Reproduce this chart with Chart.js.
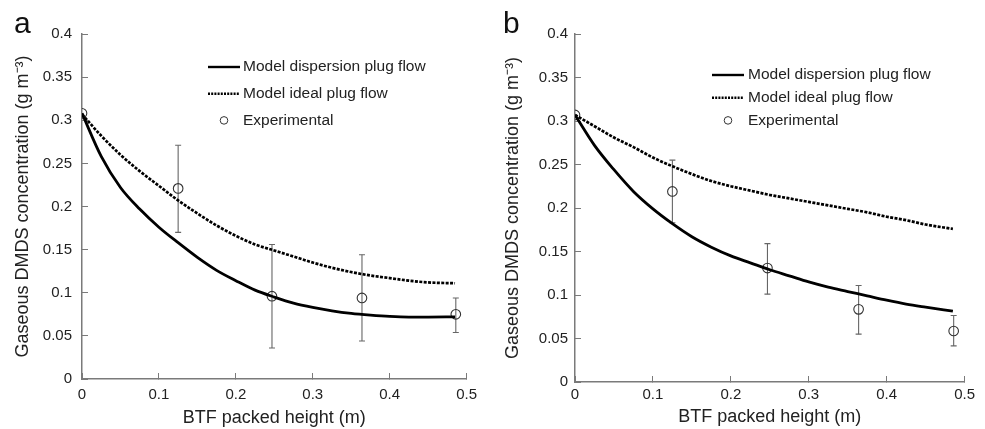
<!DOCTYPE html>
<html lang="en">
  <head>
    <meta charset="UTF-8" />
    <title>Gaseous DMDS concentration vs BTF packed height</title>
    <script src="https://cdn.jsdelivr.net/npm/chart.js@4.4.1/dist/chart.umd.min.js"></script>
    <style>
      body { margin: 0; background: #fff; }
      .wrap { position: relative; width: 985px; height: 429px; }
      canvas { position: absolute; top: 0; }
      .tag { position: absolute; font: 30px "Liberation Sans", Arial, sans-serif; line-height: 30px; color: #111; }
    </style>
  </head>
  <body>
    <div class="wrap">
      <canvas id="chartA" width="490" height="429" style="left:0"></canvas>
      <canvas id="chartB" width="495" height="429" style="left:490px"></canvas>
      <div class="tag" style="left:14px;top:8px">a</div>
      <div class="tag" style="left:503px;top:8px">b</div>
    </div>
    <script>
      // values
      const modelX = [0, 0.025, 0.05, 0.075, 0.1, 0.125, 0.15, 0.175, 0.2, 0.225,
                      0.25, 0.275, 0.3, 0.325, 0.35, 0.375, 0.4, 0.425, 0.45, 0.485];
      const dispersionA = [0.308, 0.258, 0.222, 0.197, 0.176, 0.158, 0.141, 0.126, 0.114, 0.103,
                           0.095, 0.088, 0.083, 0.079, 0.076, 0.074, 0.0725, 0.0718, 0.0718, 0.072];
      const idealA = [0.307, 0.282, 0.260, 0.241, 0.224, 0.207, 0.192, 0.178, 0.166, 0.156,
                      0.149, 0.142, 0.135, 0.129, 0.124, 0.120, 0.117, 0.114, 0.112, 0.111];
      const dispersionB = [0.307, 0.272, 0.244, 0.219, 0.199, 0.182, 0.167, 0.155, 0.145, 0.137,
                           0.129, 0.122, 0.115, 0.109, 0.104, 0.099, 0.094, 0.0895, 0.086, 0.0815];
      const idealB = [0.307, 0.294, 0.281, 0.270, 0.258, 0.248, 0.239, 0.231, 0.225, 0.220,
                      0.215, 0.211, 0.207, 0.203, 0.199, 0.195, 0.190, 0.186, 0.181, 0.176];

      const expX = [0, 0.125, 0.247, 0.364, 0.486];
      const expA = [0.308, 0.221, 0.096, 0.094, 0.075];
      const lowA = [0.308, 0.170, 0.036, 0.044, 0.054];
      const highA = [0.308, 0.271, 0.156, 0.144, 0.094];
      const expB = [0.307, 0.219, 0.131, 0.0835, 0.0586];
      const lowB = [0.307, 0.183, 0.101, 0.055, 0.0415];
      const highB = [0.307, 0.255, 0.159, 0.111, 0.0765];

      const xTickValues = [0, 0.1, 0.2, 0.3, 0.4, 0.5];
      const xTickLabels = ["0", "0.1", "0.2", "0.3", "0.4", "0.5"];
      const yTickValues = [0, 0.05, 0.1, 0.15, 0.2, 0.25, 0.3, 0.35, 0.4];
      const yTickLabels = ["0", "0.05", "0.1", "0.15", "0.2", "0.25", "0.3", "0.35", "0.4"];

      const fontFamily = "'Liberation Sans', Arial, sans-serif";
      Chart.defaults.font.family = fontFamily;
      Chart.defaults.color = "#222";
      const axisGrey = "#7a7a7a";

      // legend drawn inside the plot, like the original figure
      const innerLegend = {
        id: "innerLegend",
        afterDraw(chart, args, opts) {
          const ctx = chart.ctx;
          ctx.save();
          ctx.font = "15.5px " + fontFamily;
          ctx.fillStyle = "#222";
          ctx.textBaseline = "middle";
          opts.items.forEach((idx, i) => {
            const ds = chart.data.datasets[idx];
            const y = opts.top + i * opts.rowGap;
            if (ds.showLine) {
              ctx.strokeStyle = ds.borderColor;
              ctx.lineWidth = 2.4;
              ctx.setLineDash(ds.borderDash ? [2, 1.2] : []);
              ctx.beginPath();
              ctx.moveTo(opts.left, y);
              ctx.lineTo(opts.left + opts.lineLen, y);
              ctx.stroke();
            } else {
              ctx.setLineDash([]);
              ctx.strokeStyle = ds.pointBorderColor;
              ctx.lineWidth = 1;
              ctx.beginPath();
              ctx.arc(opts.left + opts.lineLen / 2, y, 3.8, 0, Math.PI * 2);
              ctx.stroke();
            }
            ctx.fillText(ds.label, opts.left + opts.lineLen + opts.gap, y);
          });
          ctx.restore();
        }
      };

      function errorBars(low, high) {
        const pts = [];
        expX.forEach((x, i) => {
          if (high[i] > low[i]) {
            pts.push({ x: x, y: low[i] }, { x: x, y: high[i] }, { x: x, y: null });
          }
        });
        return pts;
      }

      function makePanel(id, p) {
        const ctx = document.getElementById(id).getContext("2d");
        return new Chart(ctx, {
          type: "scatter",
          data: {
            datasets: [
              {
                label: "Model dispersion plug flow",
                data: modelX.map((x, i) => ({ x: x, y: p.dispersion[i] })),
                showLine: true,
                borderColor: "#000",
                borderWidth: 2.8,
                pointRadius: 0,
                cubicInterpolationMode: "monotone",
              },
              {
                label: "Model ideal plug flow",
                data: modelX.map((x, i) => ({ x: x, y: p.ideal[i] })),
                showLine: true,
                borderColor: "#000",
                borderWidth: 2.7,
                borderDash: [3, 1.4],
                pointRadius: 0,
                cubicInterpolationMode: "monotone",
              },
              {
                label: "Experimental",
                data: expX.map((x, i) => ({ x: x, y: p.exp[i] })),
                showLine: false,
                pointRadius: 4.8,
                pointBorderWidth: 1.1,
                pointBorderColor: "#333",
                pointBackgroundColor: "rgba(0,0,0,0)",
              },
              {
                label: "",
                data: errorBars(p.low, p.high),
                showLine: true,
                spanGaps: false,
                borderColor: "#666",
                borderWidth: 1.1,
                pointStyle: "line",
                pointRadius: 3,
                pointBorderWidth: 1.1,
                pointBorderColor: "#666",
              },
            ],
          },
          options: {
            responsive: false,
            animation: false,
            events: [],
            layout: { padding: { left: 0, top: 34, right: p.padRight, bottom: 0 } },
            plugins: {
              legend: { display: false },
              tooltip: { enabled: false },
              innerLegend: p.legend,
            },
            scales: {
              x: {
                type: "linear",
                min: 0,
                max: 0.5,
                afterBuildTicks: (s) => { s.ticks = xTickValues.map((v) => ({ value: v })); },
                afterFit: (s) => { s.height = p.xAxisHeight; },
                ticks: {
                  callback: (v, i) => xTickLabels[i],
                  font: { size: 15 },
                  padding: p.xTickPad,
                  maxRotation: 0,
                  autoSkip: false,
                },
                grid: { drawOnChartArea: false, drawTicks: true, tickLength: -6, color: axisGrey, lineWidth: 1 },
                border: { color: axisGrey, width: 1.5 },
                title: {
                  display: true,
                  text: "BTF packed height (m)",
                  font: { size: 18 },
                  padding: { top: 0, bottom: p.xTitlePad },
                },
              },
              y: {
                type: "linear",
                min: 0,
                max: 0.4,
                afterBuildTicks: (s) => { s.ticks = yTickValues.map((v) => ({ value: v })); },
                afterFit: (s) => { s.width = p.yAxisWidth; },
                ticks: {
                  callback: (v, i) => yTickLabels[i],
                  font: { size: 15 },
                  padding: p.yTickPad,
                  autoSkip: false,
                },
                grid: { drawOnChartArea: false, drawTicks: true, tickLength: -6, color: axisGrey, lineWidth: 1 },
                border: { color: axisGrey, width: 1.5 },
                title: {
                  display: true,
                  text: "Gaseous DMDS concentration (g m\u207B\u00B3)",
                  font: { size: 18 },
                  padding: { top: 12, bottom: 0 },
                },
              },
            },
          },
          plugins: [innerLegend],
        });
      }

      makePanel("chartA", {
        dispersion: dispersionA, ideal: idealA, exp: expA, low: lowA, high: highA,
        padRight: 20, xAxisHeight: 50, yAxisWidth: 82, xTickPad: 13, yTickPad: 16, xTitlePad: 0,
        legend: { items: [0, 1, 2], left: 208, top: 67, rowGap: 26.7, lineLen: 32, gap: 3 },
      });
      makePanel("chartB", {
        dispersion: dispersionB, ideal: idealB, exp: expB, low: lowB, high: highB,
        padRight: 11, xAxisHeight: 47, yAxisWidth: 85, xTickPad: 10, yTickPad: 13, xTitlePad: 1,
        legend: { items: [0, 1, 2], left: 222, top: 75, rowGap: 22.7, lineLen: 32, gap: 4 },
      });
    </script>
  </body>
</html>
